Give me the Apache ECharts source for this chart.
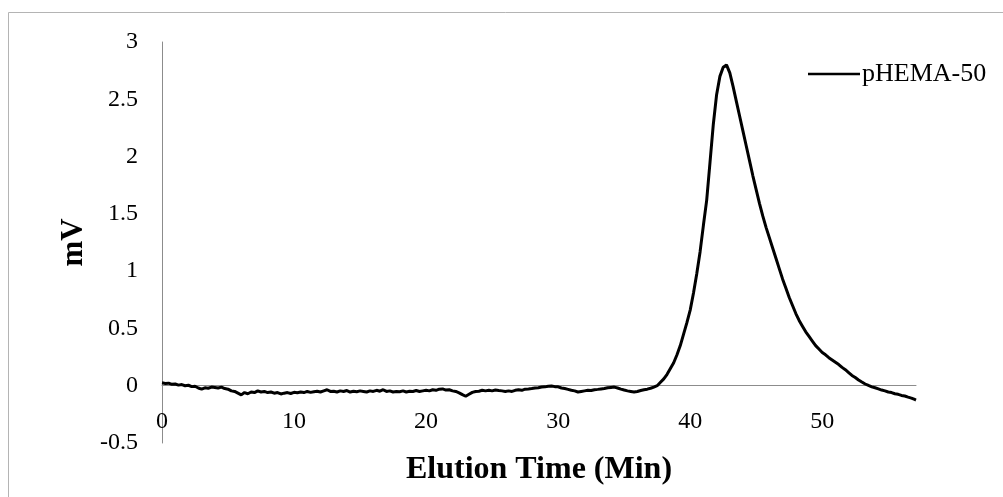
<!DOCTYPE html>
<html>
<head>
<meta charset="utf-8">
<script src="https://cdn.jsdelivr.net/npm/echarts@6/dist/echarts.min.js"></script>
<style>html,body{margin:0;padding:0;background:#fff;}#c{width:1003px;height:497px;}</style>
</head>
<body>
<div id="c"></div>
<script>
const seriesName = 'pHEMA-50';
const xTitle = 'Elution Time (Min)';
const yTitle = 'mV';
const xTicks = [0, 10, 20, 30, 40, 50];
const yTicks = [-0.5, 0, 0.5, 1, 1.5, 2, 2.5, 3];

const elutionTime = [
  0, 0.25, 0.5, 0.75, 1, 1.25, 1.5, 1.75,
  2, 2.25, 2.5, 2.75, 3, 3.25, 3.5, 3.75,
  4, 4.25, 4.5, 4.75, 5, 5.25, 5.5, 5.75,
  6, 6.25, 6.5, 6.75, 7, 7.25, 7.5, 7.75,
  8, 8.25, 8.5, 8.75, 9, 9.25, 9.5, 9.75,
  10, 10.25, 10.5, 10.75, 11, 11.25, 11.5, 11.75,
  12, 12.25, 12.5, 12.75, 13, 13.25, 13.5, 13.75,
  14, 14.25, 14.5, 14.75, 15, 15.25, 15.5, 15.75,
  16, 16.25, 16.5, 16.75, 17, 17.25, 17.5, 17.75,
  18, 18.25, 18.5, 18.75, 19, 19.25, 19.5, 19.75,
  20, 20.25, 20.5, 20.75, 21, 21.25, 21.5, 21.75,
  22, 22.25, 22.5, 22.75, 23, 23.25, 23.5, 23.75,
  24, 24.25, 24.5, 24.75, 25, 25.25, 25.5, 25.75,
  26, 26.25, 26.5, 26.75, 27, 27.25, 27.5, 27.75,
  28, 28.25, 28.5, 28.75, 29, 29.25, 29.5, 29.75,
  30, 30.25, 30.5, 30.75, 31, 31.25, 31.5, 31.75,
  32, 32.25, 32.5, 32.75, 33, 33.25, 33.5, 33.75,
  34, 34.25, 34.5, 34.75, 35, 35.25, 35.5, 35.75,
  36, 36.25, 36.5, 36.75, 37, 37.25, 37.5, 37.75,
  38, 38.25, 38.5, 38.75, 39, 39.25, 39.5, 39.75,
  40, 40.25, 40.5, 40.75, 41, 41.25, 41.5, 41.75,
  42, 42.25, 42.5, 42.75, 43, 43.25, 43.5, 43.75,
  44, 44.25, 44.5, 44.75, 45, 45.25, 45.5, 45.75,
  46, 46.25, 46.5, 46.75, 47, 47.25, 47.5, 47.75,
  48, 48.25, 48.5, 48.75, 49, 49.25, 49.5, 49.75,
  50, 50.25, 50.5, 50.75, 51, 51.25, 51.5, 51.75,
  52, 52.25, 52.5, 52.75, 53, 53.25, 53.5, 53.75,
  54, 54.25, 54.5, 54.75, 55, 55.25, 55.5, 55.75,
  56, 56.25, 56.5, 56.75, 57, 57.1
];

const signalMV = [
  0.025, 0.02, 0.022, 0.012, 0.015, 0.005, 0.01, 0.0,
  0.004, -0.008, -0.005, -0.02, -0.03, -0.018, -0.022, -0.012,
  -0.015, -0.02, -0.012, -0.025, -0.03, -0.045, -0.05, -0.065,
  -0.08, -0.06, -0.07, -0.055, -0.06, -0.045, -0.055, -0.05,
  -0.06, -0.055, -0.065, -0.06, -0.072, -0.065, -0.06, -0.068,
  -0.058, -0.062, -0.055, -0.06, -0.05, -0.058, -0.052, -0.048,
  -0.055, -0.045, -0.035, -0.05, -0.048, -0.055, -0.045, -0.05,
  -0.042, -0.055, -0.048, -0.052, -0.045, -0.05, -0.055, -0.045,
  -0.05, -0.04, -0.048, -0.035, -0.05, -0.045, -0.055, -0.05,
  -0.052, -0.045, -0.055, -0.048, -0.05, -0.042, -0.05, -0.045,
  -0.04, -0.045, -0.035, -0.04, -0.03, -0.028, -0.038, -0.035,
  -0.045, -0.05, -0.062, -0.078, -0.092, -0.075, -0.058, -0.05,
  -0.048, -0.04, -0.045, -0.04, -0.045, -0.038, -0.042, -0.045,
  -0.05, -0.045, -0.05, -0.04, -0.035, -0.04, -0.03, -0.028,
  -0.025, -0.02, -0.018, -0.012, -0.01, -0.004, -0.002, -0.008,
  -0.01, -0.02, -0.025, -0.032, -0.04, -0.045, -0.055, -0.05,
  -0.045, -0.04, -0.042, -0.035, -0.032, -0.028, -0.025, -0.018,
  -0.015, -0.012, -0.02, -0.03, -0.038, -0.045, -0.05, -0.055,
  -0.05, -0.042, -0.035, -0.03, -0.022, -0.012, 0.0, 0.03,
  0.06, 0.10, 0.15, 0.20, 0.27, 0.35, 0.45, 0.55,
  0.66, 0.81, 0.98, 1.17, 1.40, 1.62, 1.95, 2.28,
  2.54, 2.70, 2.78, 2.80, 2.73, 2.61, 2.48, 2.35,
  2.22, 2.09, 1.96, 1.83, 1.71, 1.59, 1.48, 1.38,
  1.29, 1.20, 1.11, 1.02, 0.93, 0.85, 0.77, 0.70,
  0.63, 0.57, 0.52, 0.47, 0.43, 0.39, 0.35, 0.32,
  0.29, 0.27, 0.245, 0.225, 0.205, 0.185, 0.16, 0.14,
  0.115, 0.09, 0.072, 0.05, 0.032, 0.015, 0.002, -0.01,
  -0.018, -0.028, -0.038, -0.045, -0.055, -0.06, -0.07, -0.075,
  -0.085, -0.09, -0.1, -0.108, -0.12, -0.125
];

const points = elutionTime.map((t, i) => [t, signalMV[i]]);
const FONT = "'Liberation Serif', 'Times New Roman', serif";

const chart = echarts.init(document.getElementById('c'), null, { renderer: 'canvas' });
chart.setOption({
  animation: false,
  backgroundColor: '#ffffff',
  grid: { left: 162, right: 87, top: 42, bottom: 54, containLabel: false, outerBoundsMode: 'none' },
  legend: {
    data: [seriesName],
    left: 808,
    top: 61,
    padding: 0,
    icon: 'rect',
    itemWidth: 52,
    itemHeight: 2.5,
    textStyle: { fontFamily: FONT, fontSize: 26, color: '#000', padding: [0, 0, 0, -3] }
  },
  xAxis: {
    type: 'value',
    min: 0,
    max: 57.1,
    interval: 10,
    offset: -57.3,
    axisLine: { onZero: false, lineStyle: { color: '#8c8c8c', width: 1 } },
    axisTick: { show: false },
    splitLine: { show: false },
    axisLabel: {
      showMaxLabel: false,
      margin: 24,
      fontFamily: FONT, fontSize: 24, color: '#000',
      formatter: v => (xTicks.indexOf(v) >= 0 ? String(v) : '')
    },
    name: xTitle,
    nameLocation: 'middle',
    nameGap: 68,
    nameTextStyle: { fontFamily: FONT, fontSize: 32, fontWeight: 'bold', color: '#000' }
  },
  yAxis: {
    type: 'value',
    min: yTicks[0],
    max: yTicks[yTicks.length - 1],
    interval: 0.5,
    axisLine: { show: true, onZero: false, lineStyle: { color: '#8c8c8c', width: 1 } },
    axisTick: { show: false },
    splitLine: { show: false },
    axisLabel: { margin: 24, fontFamily: FONT, fontSize: 24, color: '#000' },
    name: yTitle,
    nameLocation: 'middle',
    nameRotate: 90,
    nameGap: 71,
    nameTextStyle: { fontFamily: FONT, fontSize: 31, fontWeight: 'bold', color: '#000' }
  },
  graphic: [
    { type: 'line', shape: { x1: 8.5, y1: 12.5, x2: 1003, y2: 12.5 }, style: { stroke: '#b4b4b4', lineWidth: 1 }, silent: true },
    { type: 'line', shape: { x1: 8.5, y1: 12.5, x2: 8.5, y2: 497 }, style: { stroke: '#b4b4b4', lineWidth: 1 }, silent: true }
  ],
  series: [{
    name: seriesName,
    type: 'line',
    data: points,
    showSymbol: false,
    symbol: 'none',
    lineStyle: { color: '#000', width: 3 },
    itemStyle: { color: '#000' }
  }]
});
</script>
</body>
</html>
